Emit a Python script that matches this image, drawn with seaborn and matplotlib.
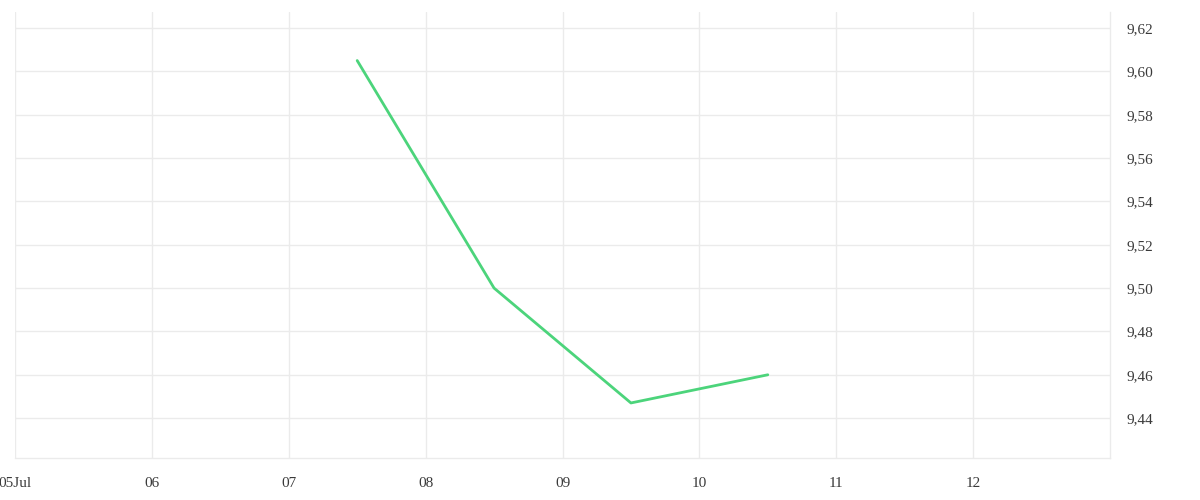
import matplotlib
matplotlib.use("Agg")
import matplotlib.pyplot as plt
import matplotlib.dates as mdates
from matplotlib.ticker import FuncFormatter, MultipleLocator
import seaborn as sns
import pandas as pd

# values
dates = ["2024-07-07 12:00", "2024-07-08 12:00", "2024-07-09 12:00", "2024-07-10 12:00"]
prices = [9.605, 9.500, 9.447, 9.460]
tick_days = ["2024-07-05", "2024-07-06", "2024-07-07", "2024-07-08",
             "2024-07-09", "2024-07-10", "2024-07-11", "2024-07-12"]

df = pd.DataFrame({"date": pd.to_datetime(dates), "price": prices})

sns.set_style("white")
plt.rcParams["font.family"] = ["Liberation Serif", "DejaVu Serif"]

fig = plt.figure(figsize=(12, 5), dpi=100)
ax = fig.add_axes([0.0125, 0.084, 0.9125, 0.892])

sns.lineplot(data=df, x="date", y="price", ax=ax, color="#4cd47b", linewidth=2)

grid_c = "#ebebeb"
ax.set_xlim(pd.Timestamp("2024-07-05"), pd.Timestamp("2024-07-13"))
ax.set_ylim(9.4216, 9.6274)
ax.set_xticks(pd.to_datetime(tick_days))


def xfmt(v, pos):
    d = mdates.num2date(v)
    return d.strftime("%d") + ("Jul" if d.day == 5 else "")


ax.xaxis.set_major_formatter(FuncFormatter(xfmt))
ax.yaxis.set_major_locator(MultipleLocator(0.02))
ax.yaxis.set_major_formatter(FuncFormatter(lambda v, p: f"{v:.2f}".replace(".", ",")))
ax.yaxis.tick_right()

ax.grid(True, color=grid_c, linewidth=1)
for s in ["top", "left"]:
    ax.spines[s].set_visible(False)
for s in ["bottom", "right"]:
    ax.spines[s].set_color(grid_c)
    ax.spines[s].set_linewidth(1)

ax.tick_params(axis="x", length=6, color=grid_c, labelsize=11, labelcolor="#3a3a3a", pad=8)
ax.tick_params(axis="y", length=0, labelsize=11, labelcolor="#3a3a3a", pad=12)
ax.set_xlabel("")
ax.set_ylabel("")

fig.savefig("out.png", dpi=100)
